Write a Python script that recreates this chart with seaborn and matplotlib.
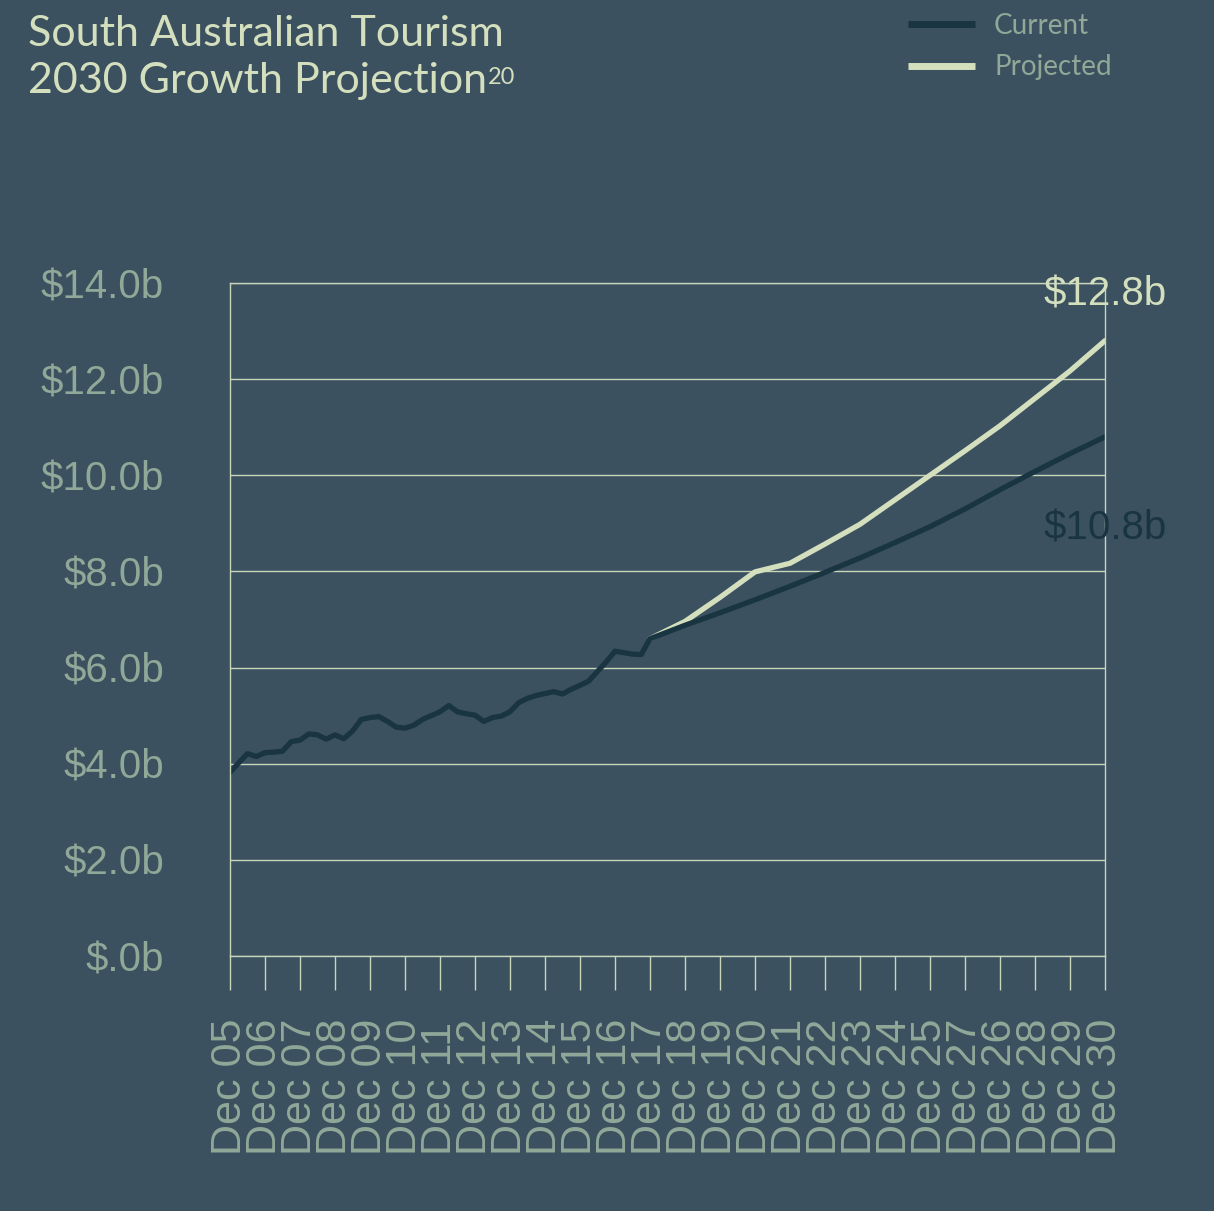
import matplotlib
matplotlib.use('Agg')
import matplotlib.pyplot as plt
from matplotlib.lines import Line2D
import pandas as pd
import seaborn as sns

# ── palette ────────────────────────────────────────────────────────────────
BG    = '#3b5160'
DARK  = '#1a3542'
LIGHT = '#d4dfbe'
MUTED = '#8fa898'
GRID  = '#c9d5b9'

# ── data ($ billions) ──────────────────────────────────────────────────────
# quarterly history Dec 05 -> Dec 17
history = [3.82, 4.02, 4.21, 4.15, 4.23, 4.24, 4.26, 4.46, 4.49, 4.62,
           4.60, 4.51, 4.60, 4.52, 4.68, 4.92, 4.96, 4.98, 4.88, 4.76,
           4.74, 4.80, 4.92, 5.00, 5.08, 5.21, 5.08, 5.04, 5.01, 4.88,
           4.96, 4.99, 5.08, 5.27, 5.36, 5.42, 5.46, 5.50, 5.45, 5.55,
           5.63, 5.72, 5.92, 6.12, 6.34, 6.31, 6.28, 6.27, 6.60]
# yearly Dec 18 -> Dec 30
current_trend = [6.88, 7.14, 7.41, 7.69, 7.98, 8.28, 8.60, 8.93, 9.30,
                 9.70, 10.08, 10.45, 10.80]
projected = [6.96, 7.46, 7.99, 8.17, 8.57, 8.98, 9.49, 10.00, 10.51,
             11.03, 11.60, 12.17, 12.80]

tick_labels = ['Dec 05', 'Dec 06', 'Dec 07', 'Dec 08', 'Dec 09', 'Dec 10',
               'Dec 11', 'Dec 12', 'Dec 13', 'Dec 14', 'Dec 15', 'Dec 16',
               'Dec 17', 'Dec 18', 'Dec 19', 'Dec 20', 'Dec 21', 'Dec 22',
               'Dec 23', 'Dec 24', 'Dec 25', 'Dec 27', 'Dec 26', 'Dec 28',
               'Dec 29', 'Dec 30']
y_ticks  = [0, 2, 4, 6, 8, 10, 12, 14]
y_labels = ['$.0b', '$2.0b', '$4.0b', '$6.0b', '$8.0b', '$10.0b',
            '$12.0b', '$14.0b']

# ── long table ─────────────────────────────────────────────────────────────
hist_t = [i / 4 for i in range(len(history))]
start = hist_t[-1]
proj_t = [start + i + 1 for i in range(len(projected))]

rows = []
for t, v in zip(hist_t + proj_t, history + current_trend):
    rows.append({'t': t, 'value': v, 'series': 'Current'})
for t, v in zip([start] + proj_t, [history[-1]] + projected):
    rows.append({'t': t, 'value': v, 'series': 'Projected'})
df = pd.DataFrame(rows)

# ── figure ─────────────────────────────────────────────────────────────────
sns.set_style('white')
plt.rcParams.update({
    'figure.facecolor': BG,
    'axes.facecolor':   BG,
    'savefig.facecolor': BG,
})
plt.rcParams['font.family'] = ['Liberation Sans', 'DejaVu Sans']

fig = plt.figure(figsize=(12.14, 12.11), dpi=100)
ax = fig.add_axes([230 / 1214, 1 - 956 / 1211, 875 / 1214, 673 / 1211])

sns.lineplot(data=df, x='t', y='value', hue='series',
             hue_order=['Projected', 'Current'],
             palette={'Current': DARK, 'Projected': LIGHT},
             estimator=None, sort=False, linewidth=3.8,
             legend=False, ax=ax)

ax.set_xlim(0, len(tick_labels) - 1)
ax.set_ylim(0, 14)
ax.set_xlabel('')
ax.set_ylabel('')

ax.set_xticks(range(len(tick_labels)))
ax.set_xticklabels(tick_labels, rotation=90, fontsize=31, color=MUTED,
                   va='bottom', ha='center')
ax.set_yticks(y_ticks)
ax.set_yticklabels([l.replace('$', r'\$') for l in y_labels],
                   fontsize=29, color=MUTED)
# labels hang from a common baseline well below the tick marks
ax.tick_params(axis='x', bottom=True, length=24.5, width=1, color=GRID,
               pad=119)
ax.tick_params(axis='y', left=False, length=0, pad=47.5)

ax.yaxis.grid(True, color=GRID, linewidth=1)
ax.xaxis.grid(False)
for s in ax.spines.values():
    s.set_color(GRID)
    s.set_linewidth(1)

# end labels
ax.annotate(r'\$12.8b', xy=(proj_t[-1], projected[-1]), xytext=(0, 33),
            textcoords='offset points', ha='center', va='center',
            fontsize=29, color=LIGHT, annotation_clip=False)
ax.annotate(r'\$10.8b', xy=(proj_t[-1], current_trend[-1]), xytext=(0, -66),
            textcoords='offset points', ha='center', va='center',
            fontsize=29, color=DARK, annotation_clip=False)

# title
title_font = ['Lato', 'DejaVu Sans']
fig.text(28 / 1214, 1 - 15 / 1211, 'South Australian Tourism',
         family=title_font, fontsize=31, color=LIGHT, va='top', ha='left')
t2 = fig.text(28 / 1214, 1 - 62 / 1211, '2030 Growth Projection',
              family=title_font, fontsize=31, color=LIGHT, va='top', ha='left')
fig.canvas.draw()
bb = t2.get_window_extent().transformed(fig.transFigure.inverted())
fig.text(bb.x1 + 0.001, bb.y1 - 0.004, '20', family=title_font, fontsize=17,
         color=LIGHT, va='top', ha='left')

# legend
handles = [Line2D([0], [0], color=DARK, lw=5, solid_capstyle='butt'),
           Line2D([0], [0], color=LIGHT, lw=5, solid_capstyle='butt')]
fig.legend(handles, ['Current', 'Projected'], loc='upper left',
           bbox_to_anchor=(908 / 1214, 1 - 13 / 1211), frameon=False,
           prop={'family': title_font, 'size': 20}, labelcolor=MUTED,
           handlelength=2.4, handletextpad=0.7, labelspacing=0.55,
           borderpad=0, borderaxespad=0)

fig.savefig('out.png', dpi=100, facecolor=BG)
